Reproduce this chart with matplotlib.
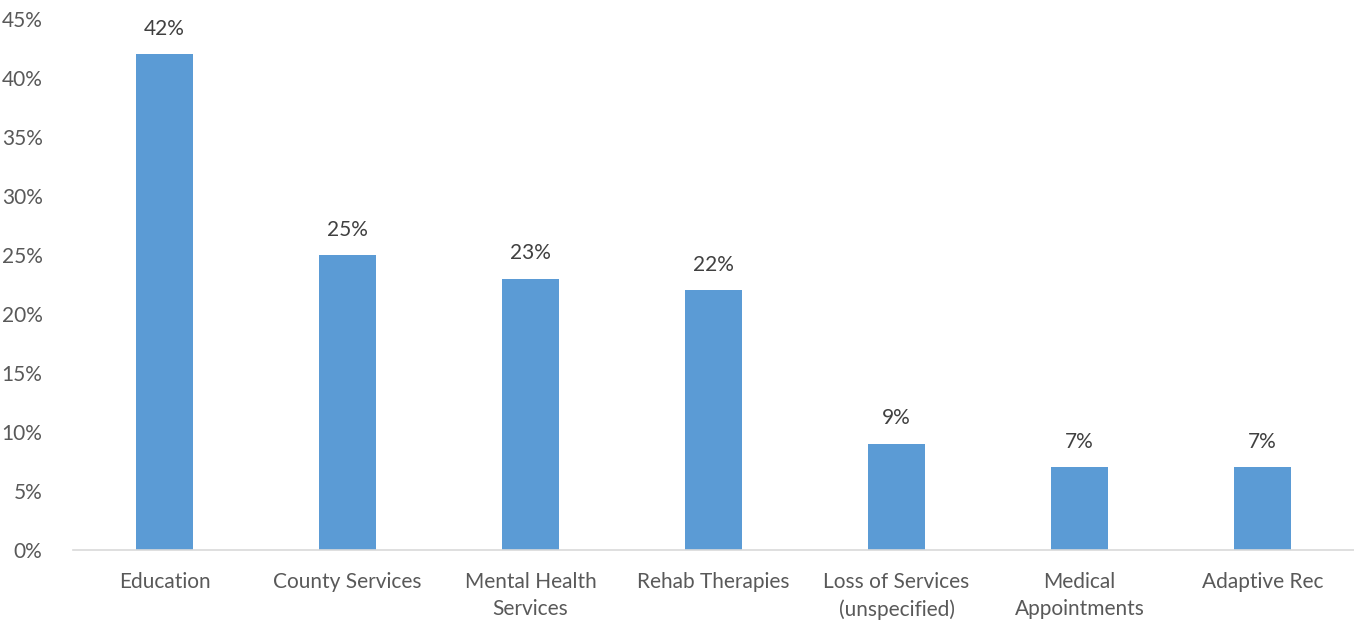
import matplotlib
matplotlib.use("Agg")
import matplotlib.pyplot as plt
from matplotlib.ticker import PercentFormatter
import numpy as np

categories = ["Education", "County Services", "Mental Health\nServices", "Rehab Therapies",
              "Loss of Services\n(unspecified)", "Medical\nAppointments", "Adaptive Rec"]
shares = [42, 25, 23, 22, 9, 7, 7]

plt.rcParams["font.family"] = ["Lato", "DejaVu Sans"]
text_color = "#595959"

fig = plt.figure(figsize=(13.54, 6.23), dpi=100)
ax = fig.add_axes([0.054, 0.1172, 0.946, 0.8523])

x = np.arange(len(categories))
ax.bar(x, shares, width=0.31, color="#5B9BD5", zorder=2)

# value labels above each bar
for xi, v in zip(x, shares):
    ax.text(xi, v + 1.3, f"{v}%", ha="center", va="bottom", fontsize=15, color="#404040")

ax.set_xlim(-0.5, len(categories) - 0.5)
ax.set_ylim(0, 45)
ax.set_yticks(np.arange(0, 46, 5))
ax.yaxis.set_major_formatter(PercentFormatter(decimals=0))
ax.set_xticks(x)
ax.set_xticklabels(categories, fontsize=15, color=text_color, linespacing=1.45)
ax.tick_params(axis="y", labelsize=15, labelcolor=text_color, length=0, pad=22)
ax.tick_params(axis="x", length=0, pad=16)

for side in ["top", "right", "left"]:
    ax.spines[side].set_visible(False)
ax.spines["bottom"].set_color("#D9D9D9")
ax.spines["bottom"].set_linewidth(1.2)

fig.savefig("out.png", dpi=100)
